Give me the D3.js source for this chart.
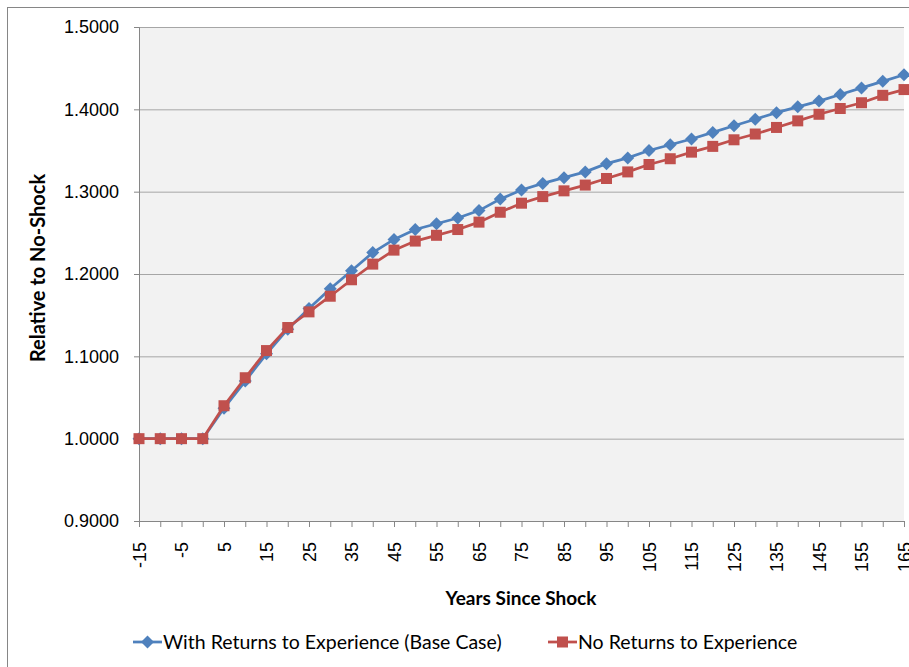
<!DOCTYPE html>
<html>
<head>
<meta charset="utf-8">
<script src="https://cdn.jsdelivr.net/npm/d3@7"></script>
<style>
  body { margin: 0; background: #fff; }
  svg { display: block; font-family: Lato, "Open Sans", sans-serif; }
</style>
</head>
<body>
<div id="chart"></div>
<script>
// years since shock (category axis)
var years = [-15, -10, -5, 0, 5, 10, 15, 20, 25, 30, 35, 40, 45, 50, 55, 60, 65, 70, 75, 80,
  85, 90, 95, 100, 105, 110, 115, 120, 125, 130, 135, 140, 145, 150, 155, 160, 165];

// With Returns to Experience (Base Case)
var withReturns = [1.000, 1.000, 1.000, 1.000, 1.037, 1.070, 1.103, 1.133, 1.158, 1.182, 1.204,
  1.226, 1.242, 1.254, 1.261, 1.268, 1.277, 1.291, 1.302, 1.310, 1.317, 1.324, 1.334, 1.341,
  1.350, 1.357, 1.364, 1.372, 1.380, 1.388, 1.396, 1.403, 1.410, 1.418, 1.426, 1.434, 1.442];

// No Returns to Experience
var noReturns = [1.000, 1.000, 1.000, 1.000, 1.040, 1.074, 1.107, 1.135, 1.154, 1.173, 1.193,
  1.212, 1.229, 1.240, 1.247, 1.254, 1.263, 1.275, 1.286, 1.294, 1.301, 1.308, 1.316, 1.324,
  1.333, 1.340, 1.348, 1.355, 1.363, 1.370, 1.378, 1.386, 1.394, 1.401, 1.408, 1.417, 1.424];

var yTicks = [0.9, 1.0, 1.1, 1.2, 1.3, 1.4, 1.5];

var W = 909, H = 667;
var margin = { top: 27, right: 5, bottom: 146, left: 139 };
var width = W - margin.left - margin.right,
    height = H - margin.top - margin.bottom;

var svg = d3.select("#chart").append("svg")
    .attr("width", W)
    .attr("height", H);

// chart border
svg.append("rect")
    .attr("x", 7.5).attr("y", 7.5)
    .attr("width", 940).attr("height", 700)
    .attr("fill", "#fff")
    .attr("stroke", "#868686");

var g = svg.append("g")
    .attr("transform", "translate(" + margin.left + "," + margin.top + ")");

var x = d3.scalePoint().domain(years).range([0, width]);
var y = d3.scaleLinear().domain([0.9, 1.5]).range([height, 0]);

// plot background
g.append("rect")
    .attr("width", width).attr("height", height)
    .attr("fill", "#f2f2f2");

// gridlines
g.selectAll(".grid").data(yTicks.slice(1)).enter().append("line")
    .attr("x1", 0).attr("x2", width)
    .attr("y1", function (d) { return y(d) + 0.5; })
    .attr("y2", function (d) { return y(d) + 0.5; })
    .attr("stroke", "#a6a6a6").attr("stroke-width", 1);

// y axis
var yAxis = g.append("g")
    .call(d3.axisLeft(y).tickValues(yTicks).tickFormat(d3.format(".4f")).tickSize(5).tickPadding(15));
yAxis.select(".domain").attr("stroke", "#868686");
yAxis.selectAll(".tick line").attr("stroke", "#868686");
yAxis.selectAll("text").attr("font-size", "18px").attr("fill", "#000");

// x axis
var xAxis = g.append("g")
    .attr("transform", "translate(0," + height + ")")
    .call(d3.axisBottom(x).tickSize(6).tickSizeOuter(0));
xAxis.select(".domain").attr("stroke", "#868686");
xAxis.selectAll(".tick line").attr("stroke", "#868686");
xAxis.selectAll(".tick text")
    .attr("font-size", "18px").attr("fill", "#000")
    .attr("transform", "rotate(-90)")
    .attr("text-anchor", "end")
    .attr("x", -21).attr("y", 0).attr("dy", "0.35em")
    .style("display", function (d, i) { return i % 2 === 0 ? null : "none"; });

// axis titles
svg.append("text")
    .attr("transform", "translate(45,268) rotate(-90)")
    .attr("text-anchor", "middle")
    .attr("font-size", "20px").attr("font-weight", "bold")
    .text("Relative to No-Shock");

svg.append("text")
    .attr("x", 521).attr("y", 605)
    .attr("text-anchor", "middle")
    .attr("font-size", "19px").attr("font-weight", "bold")
    .text("Years Since Shock");

var series = [
  { name: "With Returns to Experience (Base Case)", values: withReturns, color: "#4f81bd", shape: "diamond" },
  { name: "No Returns to Experience", values: noReturns, color: "#c0504d", shape: "square" }
];

var line = d3.line()
    .x(function (d) { return x(d[0]); })
    .y(function (d) { return y(d[1]); });

function marker(sel, s) {
  if (s.shape === "diamond") {
    sel.append("path").attr("d", "M0,-6.5L6.5,0L0,6.5L-6.5,0Z").attr("fill", s.color);
  } else {
    sel.append("rect").attr("x", -5.5).attr("y", -5.5).attr("width", 11).attr("height", 11).attr("fill", s.color);
  }
}

series.forEach(function (s) {
  var pts = years.map(function (yr, i) { return [yr, s.values[i]]; });
  g.append("path")
      .datum(pts)
      .attr("fill", "none")
      .attr("stroke", s.color)
      .attr("stroke-width", 2.75)
      .attr("d", line);
  pts.forEach(function (p) {
    var m = g.append("g").attr("transform", "translate(" + x(p[0]) + "," + y(p[1]) + ")");
    marker(m, s);
  });
});

// legend
var legendX = [133, 548];
series.forEach(function (s, i) {
  var lg = svg.append("g").attr("transform", "translate(" + legendX[i] + ",642)");
  lg.append("line").attr("x1", 0).attr("x2", 29).attr("stroke", s.color).attr("stroke-width", 2.75);
  var m = lg.append("g").attr("transform", "translate(14.5,0)");
  marker(m, s);
  lg.append("text")
      .attr("x", 30).attr("dy", "0.35em")
      .attr("font-size", "19.5px")
      .text(s.name);
});
</script>
</body>
</html>
